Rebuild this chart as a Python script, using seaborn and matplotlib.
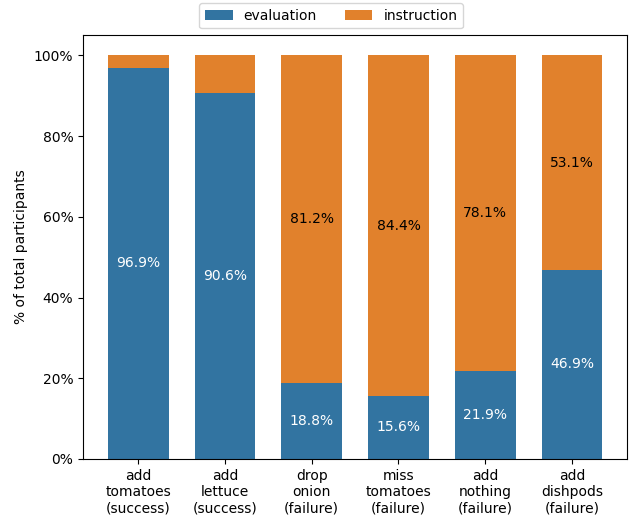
import pandas as pd
import numpy as np
import matplotlib
matplotlib.use('Agg')
import matplotlib.pyplot as plt
import seaborn as sns
from matplotlib.ticker import PercentFormatter

# Data
categories = ['add\ntomatoes\n(success)', 'add\nlettuce\n(success)', 'drop\nonion\n(failure)',
              'miss\ntomatoes\n(failure)', 'add\nnothing\n(failure)', 'add\ndishpods\n(failure)']
evaluation = [96.9, 90.6, 18.8, 15.6, 21.9, 46.9]
instruction = [3.1, 9.4, 81.2, 84.4, 78.1, 53.1]
show_instruction_label = [False, False, True, True, True, True]

df = pd.DataFrame({'task': categories, 'evaluation': evaluation, 'instruction': instruction})
df['total'] = df['evaluation'] + df['instruction']

colors = sns.color_palette()
bar_w = 0.7

fig, ax = plt.subplots(figsize=(6.29, 5.18), dpi=100)

# stacked: draw total (orange) first, then evaluation (blue) on top
sns.barplot(data=df, x='task', y='total', color=colors[1], width=bar_w, label='instruction', ax=ax)
sns.barplot(data=df, x='task', y='evaluation', color=colors[0], width=bar_w, label='evaluation', ax=ax)

# Labels at the middle of each segment
for i, row in df.iterrows():
    ax.text(i, row['evaluation'] / 2, f"{row['evaluation']:.1f}%", ha='center', va='center',
            color='white', fontsize=10)
    if show_instruction_label[i]:
        ax.text(i, row['evaluation'] + row['instruction'] / 2, f"{row['instruction']:.1f}%",
                ha='center', va='center', color='black', fontsize=10)

ax.yaxis.set_major_formatter(PercentFormatter(100, decimals=0))
ax.set_yticks([0, 20, 40, 60, 80, 100])
ax.set_ylim(0, 105)
# matplotlib-style 5% margins around the bars
n = len(categories)
span = (n - 1) + bar_w
ax.set_xlim(-bar_w / 2 - 0.05 * span, n - 1 + bar_w / 2 + 0.05 * span)
ax.set_xlabel('')
ax.set_ylabel('% of total participants')

handles, labels = ax.get_legend_handles_labels()
order = [labels.index('evaluation'), labels.index('instruction')]
ax.legend([handles[k] for k in order], [labels[k] for k in order],
          loc='upper center', bbox_to_anchor=(0.456, 1.092), ncol=2)

plt.subplots_adjust(left=0.132, right=0.997, top=0.932, bottom=0.114)
plt.savefig('out.png', dpi=100)
